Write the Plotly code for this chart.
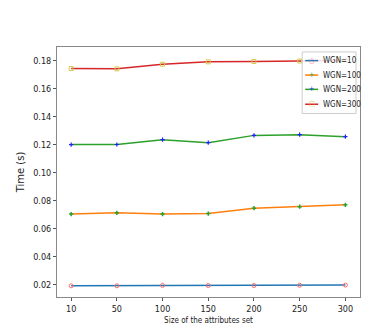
import plotly.graph_objects as go

sizes = ['10', '50', '100', '150', '200', '250', '300']
wgn_10 = [0.0192, 0.0192, 0.0195, 0.0194, 0.0194, 0.0196, 0.0197]
wgn_100 = [0.0704, 0.0713, 0.0704, 0.0708, 0.0746, 0.0757, 0.0770]
wgn_200 = [0.1200, 0.1201, 0.1235, 0.1214, 0.1266, 0.1271, 0.1257]
wgn_300 = [0.1743, 0.1741, 0.1774, 0.1791, 0.1794, 0.1797, 0.1800]

# name, values, line colour, marker style, glyph used in the legend box
series = [
    ('WGN=10', wgn_10, '#1f77b4', dict(symbol='circle-open', color='#ff6b6b', size=4, line=dict(width=1)), '○'),
    ('WGN=100', wgn_100, '#ff7f0e', dict(symbol='cross-thin', color='#2ca02c', size=3, line=dict(width=1.5, color='#2ca02c')), '+'),
    ('WGN=200', wgn_200, '#2ca02c', dict(symbol='cross-thin', color='#1f1fff', size=3, line=dict(width=1.2, color='#1f1fff')), '+'),
    ('WGN=300', wgn_300, '#d62728', dict(symbol='square-open', color='#d4c94a', size=4, line=dict(width=1)), '□'),
]

W, H = 390, 327
L, R, T, B = 48, 38, 39, 36

def px(xp):
    return (xp - L) / (W - L - R)

def py(yp):
    return (H - B - yp) / (H - T - B)

x = list(range(len(sizes)))
fig = go.Figure()
for name, vals, color, marker, _ in series:
    fig.add_trace(go.Scatter(x=x, y=vals, mode='lines+markers', name=name,
                             line=dict(color=color, width=1.5), marker=marker))

# legend box drawn by hand, matplotlib-style compact rows
fig.add_shape(type='rect', xref='paper', yref='paper',
              x0=px(294), x1=px(348), y0=py(106), y1=py(44),
              line=dict(color='#ccc', width=1), fillcolor='rgba(255,255,255,0.85)', layer='above')
row_y = [52.7, 67.3, 81.7, 96.7]
for (name, vals, color, marker, glyph), yy in zip(series, row_y):
    fig.add_shape(type='line', xref='paper', yref='paper',
                  x0=px(297), x1=px(310), y0=py(yy), y1=py(yy),
                  line=dict(color=color, width=1.5), layer='above')
    fig.add_annotation(xref='paper', yref='paper', x=px(303.5), y=py(yy), text=glyph,
                       showarrow=False, font=dict(size=7, color=marker['color']),
                       xanchor='center', yanchor='middle')
    fig.add_annotation(xref='paper', yref='paper', x=px(313), y=py(yy), text=name,
                       showarrow=False, font=dict(size=8, color='#222'),
                       xanchor='left', yanchor='middle')

font = dict(family='DejaVu Sans Condensed, DejaVu Sans', size=9, color='#222')
fig.update_layout(
    width=W, height=H,
    margin=dict(l=L, r=R, t=T, b=B),
    paper_bgcolor='white', plot_bgcolor='white',
    font=font,
    showlegend=False,
)
fig.update_xaxes(range=[-0.31, 6.32], tickvals=x, ticktext=sizes,
                 showgrid=False, zeroline=False, showline=True, mirror=True,
                 linecolor='#888', linewidth=1, ticks='outside', ticklen=3, tickcolor='#555',
                 title=dict(text='Size of the attributes set', standoff=4, font=dict(size=8)))
fig.update_yaxes(range=[0.0112, 0.1897], tickvals=[0.02, 0.04, 0.06, 0.08, 0.10, 0.12, 0.14, 0.16, 0.18],
                 tickformat='.2f',
                 showgrid=False, zeroline=False, showline=True, mirror=True,
                 linecolor='#888', linewidth=1, ticks='outside', ticklen=3, tickcolor='#555',
                 title=dict(text='Time (s)', standoff=6, font=dict(family='DejaVu Sans', size=10)))

fig.write_html('out.html')
